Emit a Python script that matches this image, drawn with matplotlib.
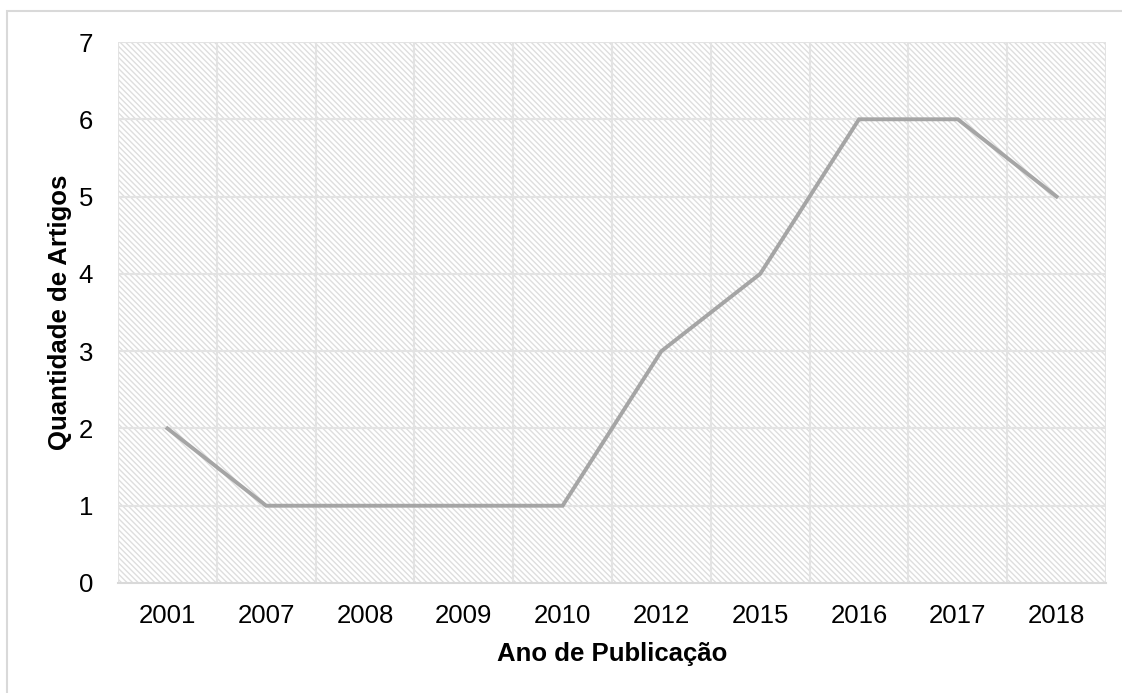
import matplotlib.pyplot as plt
from matplotlib.patches import Rectangle

# Data.
anos = ['2001', '2007', '2008', '2009', '2010', '2012', '2015', '2016', '2017', '2018']
artigos = [2, 1, 1, 1, 1, 3, 4, 6, 6, 5]

plt.rcParams['font.family'] = ['Liberation Sans', 'DejaVu Sans']
plt.rcParams['hatch.linewidth'] = 1.0

fig = plt.figure(figsize=(11.22, 6.93), dpi=100)
ax = fig.add_axes([118 / 1122, 1 - 583 / 693, (1106 - 118) / 1122, (583 - 42) / 693])

# Outer chart border (only top and left are visible in the picture).
fig.patches.append(Rectangle((7 / 1122, -0.05), 1.5, (693 - 11) / 693 + 0.05,
                             transform=fig.transFigure, fill=False,
                             edgecolor='#d9d9d9', linewidth=1.5))

# Hatched plot area background.
ax.add_patch(Rectangle((0, 0), 1, 1, transform=ax.transAxes, facecolor='white',
                       edgecolor='#dedede', hatch='\\\\\\\\\\\\', linewidth=0, zorder=0))

x = range(len(anos))
ax.plot(x, artigos, color='#a5a5a5', linewidth=2.8, solid_joinstyle='miter', zorder=3)

ax.set_xlim(-0.5, len(anos) - 0.5)
ax.set_ylim(0, 7)
ax.set_xticks(list(x))
ax.set_xticklabels(anos)
ax.set_yticks(range(8))

# Gridlines between categories and at each integer.
for b in range(len(anos) + 1):
    ax.axvline(b - 0.5, color='#e3e3e3', linewidth=1.5, zorder=1)
for v in range(1, 8):
    ax.axhline(v, color='#e3e3e3', linewidth=1.5, zorder=1)

for s in ['top', 'right', 'left']:
    ax.spines[s].set_visible(False)
ax.spines['bottom'].set_color('#d9d9d9')
ax.spines['bottom'].set_linewidth(1.5)
ax.spines['bottom'].set_zorder(2)

ax.tick_params(axis='both', length=0, labelsize=18.5, colors='black')
ax.tick_params(axis='x', pad=15)
ax.tick_params(axis='y', pad=18)

ax.set_xlabel('Ano de Publicação', fontsize=18.5, fontweight='bold', labelpad=10)
ax.set_ylabel('Quantidade de Artigos', fontsize=18.5, fontweight='bold', labelpad=5)

fig.savefig('out.png', dpi=100)
